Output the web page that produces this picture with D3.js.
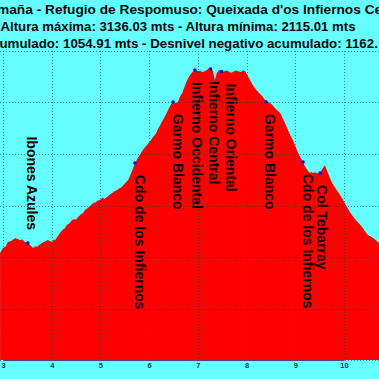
<!DOCTYPE html>
<html><head><meta charset="utf-8">
<script src="https://cdn.jsdelivr.net/npm/d3@7"></script>
<style>html,body{margin:0;padding:0;background:#66ffff;overflow:hidden} text{white-space:pre}</style>
</head><body><svg id="c" width="379" height="379"></svg>
<script>
// ---- data ----
const distanceKm = [2.94,3.00,3.05,3.10,3.17,3.25,3.30,3.35,3.40,3.45,3.51,3.56,3.62,3.66,3.70,3.75,3.80,3.86,3.92,3.96,4.01,4.04,4.07,4.12,4.17,4.22,4.27,4.31,4.36,4.42,4.47,4.50,4.54,4.60,4.64,4.68,4.74,4.80,4.85,4.90,4.94,4.99,5.04,5.08,5.14,5.19,5.24,5.29,5.34,5.40,5.44,5.50,5.57,5.62,5.66,5.71,5.77,5.82,5.87,5.93,5.98,6.03,6.08,6.14,6.19,6.26,6.32,6.39,6.44,6.49,6.54,6.59,6.64,6.68,6.74,6.79,6.84,6.89,6.94,6.99,7.04,7.10,7.15,7.20,7.25,7.29,7.31,7.35,7.39,7.43,7.46,7.49,7.52,7.57,7.62,7.67,7.72,7.77,7.82,7.88,7.93,7.97,8.02,8.07,8.12,8.17,8.24,8.32,8.36,8.40,8.44,8.48,8.53,8.58,8.63,8.69,8.75,8.80,8.85,8.90,8.95,9.00,9.06,9.11,9.16,9.19,9.22,9.26,9.30,9.33,9.36,9.40,9.45,9.48,9.51,9.55,9.57,9.61,9.64,9.67,9.72,9.78,9.85,9.92,9.99,10.06,10.12,10.19,10.28,10.37,10.43,10.49,10.55,10.60,10.66,10.72];
const elevationM = [2416,2435,2440,2458,2462,2474,2470,2466,2468,2458,2454,2446,2435,2442,2440,2448,2454,2460,2466,2462,2458,2468,2466,2480,2493,2505,2512,2524,2530,2544,2548,2545,2555,2566,2570,2583,2590,2600,2610,2612,2618,2621,2630,2626,2633,2642,2649,2655,2660,2668,2672,2685,2699,2720,2740,2765,2785,2800,2816,2830,2840,2852,2866,2880,2900,2924,2945,2971,2990,3002,2998,3002,3025,3037,3068,3090,3107,3118,3126,3122,3122,3118,3122,3128,3136,3128,3122,3087,3115,3124,3126,3120,3118,3124,3122,3116,3118,3124,3122,3118,3124,3122,3105,3087,3070,3056,3040,3025,3015,3006,3002,2998,2990,2979,2970,2959,2935,2915,2893,2872,2854,2830,2804,2785,2769,2755,2746,2735,2726,2730,2726,2728,2726,2722,2726,2740,2746,2757,2740,2726,2702,2680,2660,2641,2618,2594,2575,2555,2536,2517,2500,2485,2480,2474,2464,2454];

const xTickValues = [3,4,5,6,7,8,9,10];
const yGridValues = [2000,2200,2400,2600,2800,3000,3200];

const waypointNames = ["Ibones Azules","Cdo de los Infiernos","Garmo Blanco","Infierno Occidental","Infierno Central","Infierno Oriental","Garmo Blanco","Cdo de los Infiernos","Col Tebarray"];
const waypointKm    = [3.51,5.71,6.49,6.94,7.26,7.49,8.40,9.16,9.51];
const waypointElev  = [2454,2765,3002,3126,3130,3120,3002,2769,2726];

const titleLines = [
  "maña - Refugio de Respomuso: Queixada d'os Infiernos Central",
  "Altura máxima: 3136.03 mts - Altura mínima: 2115.01 mts",
  "Desnivel positivo acumulado: 1054.91 mts - Desnivel negativo acumulado: 1162."
];

// ---- layout ----
const W = 379, H = 379;
const labelSide = ["above","below","below","below","below","below","below","below","below"];
const labelDx   = [-1,0,0,-3,-2,4,-1,0,-3];

const svg = d3.select("#c");
svg.append("rect").attr("width",W).attr("height",H).attr("fill","#66ffff");

const x = d3.scaleLinear().domain([3,10]).range([3,344]);
const y = d3.scaleLinear().domain([2000,3200]).range([360,51]);

const pts = distanceKm.map((d,i)=>({km:d, e:elevationM[i]}));

const area = d3.area().x(d=>x(d.km)).y0(y(2000)).y1(d=>y(d.e));
svg.append("path").datum(pts).attr("d",area).attr("fill","#ff0000");

// grid
const grid = svg.append("g").attr("stroke","#00405a").attr("stroke-opacity",0.6)
  .attr("stroke-dasharray","1,2").attr("stroke-width",1);
grid.selectAll("line.v").data(xTickValues).join("line").attr("class","v")
  .attr("x1",d=>Math.round(x(d))+0.5).attr("x2",d=>Math.round(x(d))+0.5)
  .attr("y1",y(3200)).attr("y2",y(2000));
grid.selectAll("line.h").data(yGridValues).join("line").attr("class","h")
  .attr("x1",0).attr("x2",W)
  .attr("y1",d=>Math.round(y(d))+0.5).attr("y2",d=>Math.round(y(d))+0.5);

// x axis
const axis = svg.append("g").attr("transform",`translate(0,${y(2000)})`)
  .call(d3.axisBottom(x).tickValues(xTickValues).tickSize(0).tickPadding(3).tickFormat(d3.format("d")));
axis.select(".domain").attr("stroke","#4a4a70").attr("stroke-width",1.2);
axis.selectAll("text").attr("font-family","Liberation Sans, Arial, sans-serif")
  .attr("font-size",7.5).attr("font-weight","bold").attr("fill","#1d3c48");

// markers
svg.selectAll("circle.wp").data(waypointKm).join("circle").attr("class","wp")
  .attr("cx",(d)=>x(d)).attr("cy",(d,i)=>y(waypointElev[i])).attr("r",1.8).attr("fill","#1010e0");

// labels
svg.selectAll("text.wp").data(waypointNames).join("text").attr("class","wp")
  .attr("font-family","Liberation Sans, Arial, sans-serif").attr("font-size",14).attr("font-weight","bold")
  .attr("fill","#150000")
  .attr("text-anchor",(d,i)=>labelSide[i]==="above"?"end":"start")
  .attr("transform",(d,i)=>{
    const mx = x(waypointKm[i]) + labelDx[i];
    const my = y(waypointElev[i]) + (labelSide[i]==="above" ? -13 : 12);
    return `translate(${mx},${my}) rotate(90)`;
  })
  .text(d=>d);

// title
const tf = "Liberation Sans, Arial, sans-serif";
const tsizes = [13.7,13.2,13.3];
function measure(s,sz){
  const t = svg.append("text").attr("font-family",tf).attr("font-size",sz).attr("font-weight","bold").text(s);
  const w = t.node().getComputedTextLength(); t.remove(); return w;
}
const baselines = [14,31,47.5];
const t1x = 45 - measure("maña - ", tsizes[0]);
const t2x = 178 - measure(titleLines[1], tsizes[1])/2;
const t3x = 63 - measure("Desnivel positivo acumulado: ", tsizes[2]);
const tx = [t1x,t2x,t3x];
svg.selectAll("text.title").data(titleLines).join("text").attr("class","title")
  .attr("font-family",tf).attr("font-size",(d,i)=>tsizes[i]).attr("font-weight","bold").attr("fill","#0a0a0a")
  .attr("x",(d,i)=>tx[i]).attr("y",(d,i)=>baselines[i]).text(d=>d);
</script></body></html>
